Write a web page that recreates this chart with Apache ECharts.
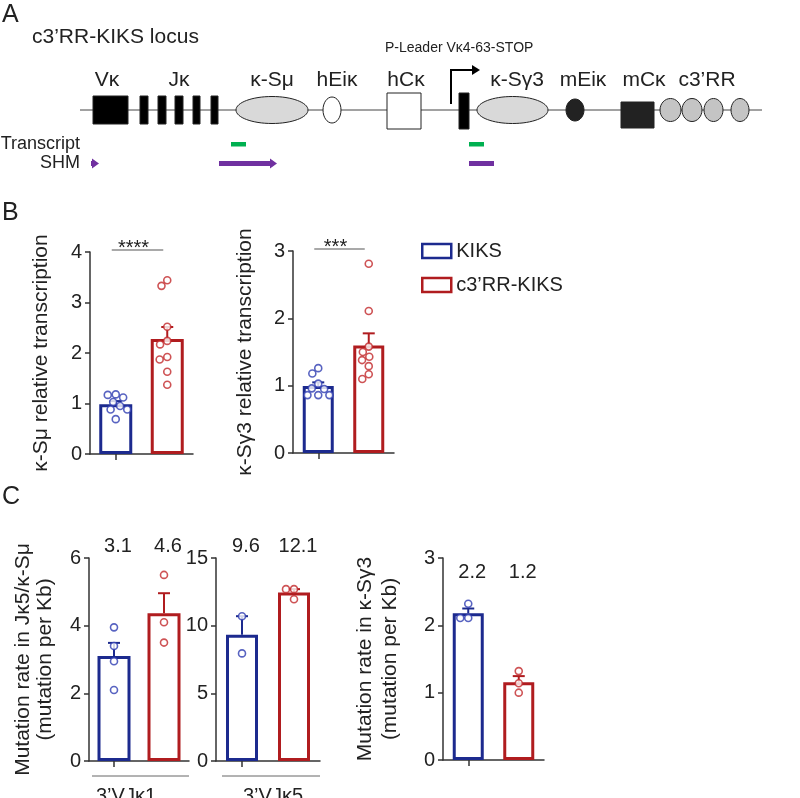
<!DOCTYPE html>
<html>
<head>
<meta charset="utf-8">
<script src="https://cdn.jsdelivr.net/npm/echarts@6/dist/echarts.min.js"></script>
<style>
html, body { margin: 0; padding: 0; background: #fff; }
#chart { width: 800px; height: 798px; }
</style>
</head>
<body>
<div id="chart"></div>
<script>
// ---- data ----
const groups = ['KIKS', 'c3’RR-KIKS'];

// B: relative transcription (one value per mouse)
const sMuKiks = [1.18, 1.12, 1.17, 1.03, 0.88, 0.88, 0.95, 0.69];
const sMuC3rr = [3.44, 3.33, 2.52, 2.24, 2.17, 1.92, 1.87, 1.63, 1.37];
const sG3Kiks = [1.18, 1.26, 0.96, 0.86, 0.86, 0.86, 0.95, 1.03];
const sG3C3rr = [2.81, 2.11, 1.58, 1.43, 1.38, 1.50, 1.29, 1.17, 1.10];
const sigB = ['****', '***'];

// C: mutation rate (mutation per Kb)
const jk1Kiks = [3.95, 3.4, 2.95, 2.1];
const jk1C3rr = [5.5, 4.1, 3.5];
const jk5Kiks = [10.7, 7.95];
const jk5C3rr = [12.7, 12.7, 11.95];
const sg3MutKiks = [2.32, 2.11, 2.11];
const sg3MutC3rr = [1.32, 1.14, 1.0];
const rateJk1 = ['3.1', '4.6'];
const rateJk5 = ['9.6', '12.1'];
const rateSg3 = ['2.2', '1.2'];
const cGroups = ['3’VJκ1', '3’VJκ5'];

// A: locus schematic, [element kind, start, end] along the locus
const locusParts = [
  ['axis', 80, 762],
  ['V', 93, 128],
  ['J', 140, 148], ['J', 158, 166], ['J', 175, 183], ['J', 193, 200], ['J', 211, 218],
  ['S', 236, 308],
  ['hE', 323, 341],
  ['hC', 387, 421],
  ['P', 451, 472],
  ['L', 459, 469],
  ['S', 477, 548],
  ['mE', 566, 584],
  ['mC', 621, 654],
  ['RR', 660, 681], ['RR', 682, 702], ['RR', 704, 723], ['RR', 731, 749],
  ['T', 231, 246], ['T', 469, 484],
  ['Ha', 91, 99], ['Ha', 219, 277], ['H', 469, 494]
];
const locusLabels = [
  ['Vκ', 107], ['Jκ', 179], ['κ-Sμ', 272], ['hEiκ', 337], ['hCκ', 406],
  ['κ-Sγ3', 517], ['mEiκ', 583], ['mCκ', 644], ['c3’RR', 707]
];

// ---- styling / layout ----
const FONT = '"Liberation Sans", Arial, sans-serif';
const TXT = '#222';
const barColors = ['#1c2a8e', '#b01c1f'];
const dotColors = ['#2e3cb2', '#c2282b'];

const panels = [
  { sets: [sMuKiks, sMuC3rr], max: 4, interval: 1, name: 'κ-Sμ relative transcription',
    box: { left: 90, top: 252, width: 103, height: 202 }, barWidth: 33, nameGap: 37, sig: sigB[0] },
  { sets: [sG3Kiks, sG3C3rr], max: 3, interval: 1, name: 'κ-Sγ3 relative transcription',
    box: { left: 293, top: 251, width: 101, height: 202 }, barWidth: 31, nameGap: 36, sig: sigB[1] },
  { sets: [jk1Kiks, jk1C3rr], max: 6, interval: 2, name: 'Mutation rate in Jκ5/κ-Sμ\n(mutation per Kb)',
    box: { left: 89, top: 558, width: 100, height: 203 }, barWidth: 33, nameGap: 33, lineHeight: 22,
    rate: rateJk1, rateDy: -12 },
  { sets: [jk5Kiks, jk5C3rr], max: 15, interval: 5, name: '',
    box: { left: 216, top: 558, width: 104, height: 203 }, barWidth: 32, rate: rateJk5, rateDy: -12 },
  { sets: [sg3MutKiks, sg3MutC3rr], max: 3, interval: 1, name: 'Mutation rate in κ-Sγ3\n(mutation per Kb)',
    box: { left: 443, top: 558, width: 101, height: 202 }, barWidth: 31, nameGap: 40, lineHeight: 25,
    rate: rateSg3, rateDy: 14 }
];

function mean(a) { return a.reduce((s, v) => s + v, 0) / a.length; }
function sem(a) {
  const m = mean(a);
  const sd = Math.sqrt(a.reduce((s, v) => s + (v - m) * (v - m), 0) / (a.length - 1));
  return sd / Math.sqrt(a.length);
}

// simple beeswarm: horizontal pixel offsets so circles do not overlap
function swarm(vals, pxPerUnit, d) {
  const placed = [];
  const off = new Array(vals.length);
  const order = vals.map((v, i) => i).sort((a, b) => vals[b] - vals[a]);
  order.forEach(i => {
    const y = vals[i] * pxPerUnit;
    const near = placed.filter(p => Math.abs(p.y - y) < d);
    const cands = [0];
    near.forEach(p => {
      const w = Math.sqrt(d * d - (p.y - y) * (p.y - y));
      cands.push(p.x - w, p.x + w);
    });
    cands.sort((a, b) => Math.abs(a) - Math.abs(b) || a - b);
    const x = cands.find(c => near.every(p => Math.hypot(p.x - c, p.y - y) >= d - 1e-6));
    placed.push({ x: x, y: y });
    off[i] = x;
  });
  return off;
}

const grids = [], xAxes = [], yAxes = [], series = [];
const axisLine = { show: true, lineStyle: { color: '#333', width: 1.5 } };

panels.forEach((p, i) => {
  grids.push(p.box);
  xAxes.push({
    type: 'category', gridIndex: i, data: groups,
    axisLine: axisLine,
    axisTick: { show: true, alignWithLabel: true, length: 6, lineStyle: { color: '#333', width: 1.5 } },
    axisLabel: { show: false }
  });
  yAxes.push({
    type: 'value', gridIndex: i, min: 0, max: p.max, interval: p.interval,
    splitLine: { show: false },
    axisLine: axisLine,
    axisTick: { show: true, length: 5, lineStyle: { color: '#333', width: 1.5 } },
    axisLabel: { fontSize: 20, color: TXT, fontFamily: FONT, margin: 8 },
    name: p.name, nameLocation: 'middle', nameRotate: 90, nameGap: p.nameGap || 30,
    nameTextStyle: { fontSize: 21, color: TXT, fontFamily: FONT, lineHeight: p.lineHeight || 24 }
  });

  const pxPerUnit = p.box.height / p.max;
  p.sets.forEach((vals, g) => {
    const m = mean(vals);
    series.push({
      type: 'bar', name: groups[g], xAxisIndex: i, yAxisIndex: i,
      stack: 'bars' + i, barWidth: p.barWidth, z: 2,
      data: g === 0 ? [m, '-'] : ['-', m],
      itemStyle: { color: '#fff', borderColor: barColors[g], borderWidth: 3 }
    });
  });

  // error bars (mean + SEM, upper side only)
  series.push({
    type: 'custom', name: 'sem' + i, xAxisIndex: i, yAxisIndex: i, z: 3,
    data: p.sets.map((vals, g) => [g, mean(vals), mean(vals) + sem(vals)]),
    encode: { x: 0, y: [1, 2] },
    renderItem: function (params, api) {
      const g = api.value(0);
      const a = api.coord([g, api.value(1)]);
      const b = api.coord([g, api.value(2)]);
      const st = { stroke: barColors[g], lineWidth: 2 };
      return { type: 'group', children: [
        { type: 'line', shape: { x1: a[0], y1: a[1], x2: b[0], y2: b[1] }, style: st },
        { type: 'line', shape: { x1: b[0] - 6, y1: b[1], x2: b[0] + 6, y2: b[1] }, style: st }
      ] };
    }
  });

  // individual points
  p.sets.forEach((vals, g) => {
    const off = swarm(vals, pxPerUnit, 8);
    series.push({
      type: 'scatter', name: 'pts' + i + '_' + g, xAxisIndex: i, yAxisIndex: i, z: 4,
      symbol: 'circle', symbolSize: 7,
      itemStyle: { color: '#fff', borderColor: dotColors[g], borderWidth: 1.6 },
      data: vals.map((v, k) => ({ value: [g, v], symbolOffset: [off[k], 0] }))
    });
  });

  // significance bracket
  if (p.sig) {
    series.push({
      type: 'custom', name: 'sig' + i, xAxisIndex: i, yAxisIndex: i, z: 5,
      data: [[0, 1, p.max]],
      renderItem: function (params, api) {
        const a = api.coord([api.value(0), api.value(2)]);
        const b = api.coord([api.value(1), api.value(2)]);
        return { type: 'group', children: [
          { type: 'line', shape: { x1: a[0] - 4, y1: a[1] - 2, x2: b[0] - 4, y2: b[1] - 2 },
            style: { stroke: '#555', lineWidth: 1.2 } },
          { type: 'text', x: (a[0] + b[0]) / 2 - 8, y: a[1] - 4,
            style: { text: p.sig, fontSize: 20, fontFamily: FONT, fill: TXT, align: 'center', verticalAlign: 'middle' } }
        ] };
      }
    });
  }

  // rate numbers above bars
  if (p.rate) {
    series.push({
      type: 'custom', name: 'rate' + i, xAxisIndex: i, yAxisIndex: i, z: 5,
      data: p.rate.map((t, g) => [g, p.max]),
      renderItem: function (params, api) {
        const a = api.coord([api.value(0), api.value(1)]);
        return { type: 'text', x: a[0] + 4, y: a[1] + p.rateDy,
          style: { text: p.rate[params.dataIndex], fontSize: 20, fontFamily: FONT, fill: TXT,
            align: 'center', verticalAlign: 'middle' } };
      }
    });
  }
});

// ---- panel A on a hidden full-width grid ----
const LG = panels.length;
grids.push({ left: 0, top: 0, width: 800, height: 180 });
xAxes.push({ type: 'value', gridIndex: LG, min: 0, max: 800, show: false });
yAxes.push({ type: 'value', gridIndex: LG, min: 0, max: 180, inverse: true, show: false });

const partStyle = {
  V:  { shape: 'rect', y0: 96, y1: 124, fill: '#000' },
  J:  { shape: 'rect', y0: 96, y1: 124, fill: '#000' },
  hC: { shape: 'rect', y0: 93, y1: 129, fill: '#fff' },
  L:  { shape: 'rect', y0: 93, y1: 129, fill: '#000' },
  mC: { shape: 'rect', y0: 102, y1: 128, fill: '#222' },
  S:  { shape: 'ellipse', ry: 13.5, fill: '#d9d9d9' },
  hE: { shape: 'ellipse', ry: 13, fill: '#fff' },
  mE: { shape: 'ellipse', ry: 11, fill: '#222' },
  RR: { shape: 'ellipse', ry: 11.5, fill: '#c4c4c4' }
};

series.push({
  type: 'custom', name: 'locus', xAxisIndex: LG, yAxisIndex: LG, z: 2,
  data: locusParts.map(p => [p[1], p[2]]),
  encode: { x: [0, 1] },
  renderItem: function (params, api) {
    const kind = locusParts[params.dataIndex][0];
    const x0 = api.coord([api.value(0), 0])[0];
    const x1 = api.coord([api.value(1), 0])[0];
    const Y = v => api.coord([0, v])[1];
    const stroke = { stroke: '#222', lineWidth: 1 };
    if (kind === 'axis') {
      return { type: 'line', shape: { x1: x0, y1: Y(110), x2: x1, y2: Y(110) }, style: { stroke: '#444', lineWidth: 1 } };
    }
    if (kind === 'P') {
      return { type: 'group', children: [
        { type: 'polyline', shape: { points: [[x0, Y(104)], [x0, Y(70)], [x1, Y(70)]] },
          style: { stroke: '#000', lineWidth: 2, fill: null } },
        { type: 'polygon', shape: { points: [[x1, Y(65)], [x1 + 8, Y(70)], [x1, Y(75)]] }, style: { fill: '#000' } }
      ] };
    }
    if (kind === 'T') {
      return { type: 'rect', shape: { x: x0, y: Y(142), width: x1 - x0, height: 4.5 }, style: { fill: '#00b050' } };
    }
    if (kind === 'H' || kind === 'Ha') {
      const purple = '#7030a0';
      const head = kind === 'Ha' ? 7 : 0;
      const ch = [{ type: 'rect', shape: { x: x0, y: Y(161), width: x1 - x0 - head, height: 5 }, style: { fill: purple } }];
      if (head) {
        ch.push({ type: 'polygon', shape: { points: [[x1 - head, Y(158.5)], [x1, Y(163.5)], [x1 - head, Y(168.5)]] }, style: { fill: purple } });
      }
      return { type: 'group', children: ch };
    }
    const s = partStyle[kind];
    if (s.shape === 'rect') {
      return { type: 'rect', shape: { x: x0, y: Y(s.y0), width: x1 - x0, height: Y(s.y1) - Y(s.y0) },
        style: Object.assign({ fill: s.fill }, stroke) };
    }
    return { type: 'ellipse', shape: { cx: (x0 + x1) / 2, cy: Y(110), rx: (x1 - x0) / 2, ry: s.ry },
      style: Object.assign({ fill: s.fill }, stroke) };
  }
});

series.push({
  type: 'custom', name: 'locusLabels', xAxisIndex: LG, yAxisIndex: LG, z: 3,
  data: locusLabels.map(l => [l[1], 80]),
  renderItem: function (params, api) {
    const c = api.coord([api.value(0), api.value(1)]);
    return { type: 'text', x: c[0], y: c[1],
      style: { text: locusLabels[params.dataIndex][0], fontSize: 21, fontFamily: FONT, fill: TXT,
        align: 'center', verticalAlign: 'middle' } };
  }
});

function label(text, x, y, size, align) {
  return { type: 'text', x: x, y: y,
    style: { text: text, fontSize: size, fontFamily: FONT, fill: TXT, align: align || 'left', verticalAlign: 'middle' } };
}

const option = {
  animation: false,
  backgroundColor: '#fff',
  grid: grids,
  xAxis: xAxes,
  yAxis: yAxes,
  legend: {
    data: groups, orient: 'vertical', left: 421, top: 241, padding: 0,
    icon: 'rect', itemWidth: 29, itemHeight: 14, itemGap: 14,
    itemStyle: { borderWidth: 2.5 },
    textStyle: { fontSize: 20, color: TXT, fontFamily: FONT },
    selectedMode: false
  },
  graphic: [
    label('A', 2, 15, 25),
    label('c3’RR-KIKS locus', 32, 37, 21),
    label('P-Leader Vκ4-63-STOP', 385, 48, 14),
    label('Transcript', 80, 144, 18, 'right'),
    label('SHM', 80, 163, 18, 'right'),
    label('B', 2, 213, 25),
    label('C', 2, 497, 25),
    { type: 'line', shape: { x1: 92, y1: 776, x2: 189, y2: 776 }, style: { stroke: '#666', lineWidth: 1 } },
    { type: 'line', shape: { x1: 222, y1: 776, x2: 320, y2: 776 }, style: { stroke: '#666', lineWidth: 1 } },
    label(cGroups[0], 126, 796, 20, 'center'),
    label(cGroups[1], 273, 796, 20, 'center')
  ],
  series: series
};

const chart = echarts.init(document.getElementById('chart'), null, { renderer: 'canvas' });
chart.setOption(option);
</script>
</body>
</html>
